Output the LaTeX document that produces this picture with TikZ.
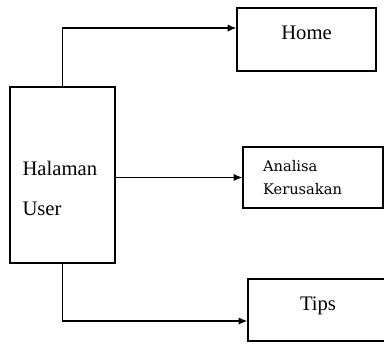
\documentclass[tikz,border=0pt]{standalone}
\usepackage{fontspec}
\setmainfont{Liberation Serif}
\newfontfamily\slabfont{DejaVu Serif}
\usetikzlibrary{arrows.meta}

\begin{document}
\begin{tikzpicture}[x=0.75pt, y=-0.75pt,
  box/.style={draw, line width=1pt, inner sep=0pt},
  arr/.style={line width=1pt, -{Latex[length=6.5pt,width=5.5pt]}},
  bigtext/.style={font=\fontsize{15.5}{30}\selectfont},
  lifted/.style={text height=10pt, text depth=10pt}]
\useasboundingbox (0,0) rectangle (384,343);
%
% Halaman User
\node[box, bigtext, minimum width=78.75pt, minimum height=132pt, text width=60pt, align=left, text height=15pt, text depth=15pt] (user) at (62.5,175) {Halaman\\User};

% Home
\node[box, bigtext, lifted, minimum width=104.25pt, minimum height=47.25pt] (home) at (306.5,39.5) {Home};

% Analisa
\node[box, font=\slabfont\fontsize{11}{17.25}\selectfont, minimum width=105pt, minimum height=45.75pt, text width=75pt, align=left] (analisa) at (313,177.5) {Analisa\\Kerusakan};

% Tips
\node[box, bigtext, lifted, minimum width=105pt, minimum height=46.5pt] (tips) at (318,310) {Tips};

\draw[arr] (user.north) |- ([yshift=8.6pt]home.west);
\draw[arr] (user.east |- analisa.west) -- (analisa.west);
\draw[arr] (user.south) |- ([yshift=-8.25pt]tips.west);
\end{tikzpicture}
\end{document}
